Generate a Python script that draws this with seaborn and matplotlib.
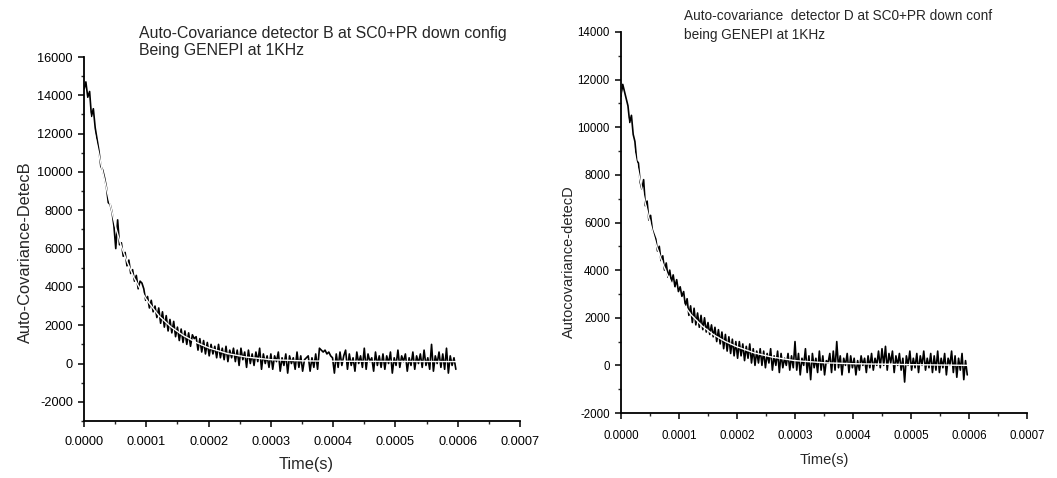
import numpy as np
import pandas as pd
import matplotlib
matplotlib.use("Agg")
import matplotlib.pyplot as plt
from matplotlib.ticker import MultipleLocator, FormatStrFormatter
import seaborn as sns

# ---------------- data ----------------
step_us = 3  # sample spacing in microseconds
time_b_us = list(range(0, 600, step_us))
covar_b = [
    14300, 14700, 13900, 14200, 12900, 13300, 12300, 11700, 11100, 10300,
    10100, 9700, 9200, 8400, 8300, 7900, 7200, 6000, 7500, 6200,
    6300, 5600, 5800, 5100, 5400, 4700, 4900, 4300, 4600, 3900,
    4300, 4200, 3900, 3300, 3500, 2900, 3300, 2700, 3000, 2400,
    2900, 2100, 2700, 1900, 2500, 1700, 2300, 1600, 2200, 1400,
    1900, 1200, 1800, 1100, 1700, 1000, 1600, 900, 1500, 1300,
    1400, 700, 1300, 600, 1200, 500, 1100, 400, 1000, 500,
    900, 300, 1000, 300, 800, 200, 900, 100, 700, 300,
    800, 100, 700, -100, 800, 200, 600, -200, 700, 0,
    500, -100, 600, 100, 800, -300, 500, 0, 400, -200,
    500, -300, 400, 100, 600, -400, 300, -100, 500, -500,
    400, 0, 300, -300, 600, -200, 400, -400, 200, 300,
    400, -400, 300, -200, 500, -300, 800, 700, 600, 700,
    500, 600, 400, 300, -500, 500, -200, 600, -100, 400,
    700, -300, 500, -100, 300, -400, 600, 0, 400, -200,
    800, -300, 500, 100, 300, -400, 600, -100, 400, -200,
    500, -300, 400, 0, 600, -500, 300, -100, 700, -200,
    400, 100, 500, -400, 300, -100, 600, -300, 400, 0,
    500, -200, 700, -100, 300, -300, 1000, -400, 400, 0,
    600, -200, 500, -300, 800, -500, 400, -100, 300, -300,
]
fit_b_t_us = [0, 10, 20, 30, 40, 50, 60, 70, 80, 90, 100, 120, 140, 160, 180,
              200, 230, 260, 300, 350, 400, 500, 600]
fit_b = [14300, 12900, 11500, 10000, 8600, 7200, 6100, 5250, 4500, 3900, 3350,
         2500, 1900, 1450, 1100, 820, 520, 340, 200, 140, 120, 110, 100]

time_d_us = list(range(0, 600, step_us))
covar_d = [
    11300, 11800, 11500, 11200, 10900, 10200, 10500, 9700, 9400, 8600,
    8500, 7700, 7400, 7800, 6700, 6900, 6100, 6300, 5700, 5500,
    5300, 4800, 5000, 4400, 4600, 4000, 4300, 3700, 4000, 3500,
    3800, 3300, 3600, 3100, 3300, 2900, 3100, 2500, 2800, 2100,
    2500, 1800, 2400, 1700, 2200, 1600, 2100, 1500, 2000, 1400,
    1800, 1300, 1700, 1200, 1600, 1000, 1500, 900, 1400, 700,
    1300, 600, 1200, 500, 1100, 400, 1000, 300, 1000, 400,
    900, 200, 800, 300, 900, 100, 700, 0, 600, 100,
    700, 0, 600, -100, 500, 100, 700, -200, 400, 0,
    600, -300, 500, -100, 300, 0, 500, -200, 400, -100,
    1000, -200, 500, -400, 300, 0, 700, -300, 400, -600,
    500, -100, 300, -300, 600, -200, 400, -400, 200, 100,
    500, -300, 600, -200, 1000, -100, 400, -400, 300, 0,
    500, -300, 400, -100, 300, -400, 200, -200, 400, 0,
    300, -300, 400, -100, 500, -200, 300, 0, 600, -100,
    700, 0, 800, -200, 500, 100, 600, -300, 400, 0,
    500, -200, 300, -700, 400, 0, 600, -200, 300, -100,
    500, -300, 400, 0, 600, -200, 300, -100, 500, -300,
    400, -200, 600, -300, 300, -100, 500, -400, 300, 0,
    600, -300, 400, -500, 300, -200, 500, -600, 200, -400,
]
fit_d_t_us = [0, 10, 20, 30, 40, 50, 60, 70, 80, 90, 100, 120, 140, 160, 180,
              200, 230, 260, 300, 350, 400, 500, 600]
fit_d = [11600, 10500, 9300, 8100, 7000, 6000, 5100, 4400, 3800, 3300, 2850,
         2150, 1650, 1280, 1000, 780, 520, 350, 200, 110, 70, 30, 0]

title_b = "Auto-Covariance detector B at SC0+PR down config\nBeing GENEPI at 1KHz"
title_d = "Auto-covariance  detector D at SC0+PR down conf\nbeing GENEPI at 1KHz"
ylabel_b = "Auto-Covariance-DetecB"
ylabel_d = "Autocovariance-detecD"
xlabel = "Time(s)"

# ---------------- styling ----------------
sns.set_style("ticks")
plt.rcParams["font.family"] = ["Liberation Sans", "DejaVu Sans"]
fam = ["Liberation Sans"]

W, H = 1057, 478
fig = plt.figure(figsize=(W / 100, H / 100), dpi=100)

def px_axes(x0, x1, ytop, ybot):
    return fig.add_axes([x0 / W, 1 - ybot / H, (x1 - x0) / W, (ybot - ytop) / H])

ax1 = px_axes(84, 520, 57, 421)
ax2 = px_axes(621, 1027, 32, 413)

df_b = pd.DataFrame({"t": np.array(time_b_us) * 1e-6, "v": covar_b})
df_fb = pd.DataFrame({"t": np.array(fit_b_t_us) * 1e-6, "v": fit_b})
df_d = pd.DataFrame({"t": np.array(time_d_us) * 1e-6, "v": covar_d})
df_fd = pd.DataFrame({"t": np.array(fit_d_t_us) * 1e-6, "v": fit_d})

panel_cfg = [
    # ax, data, fit, ylim, ticklabel size, x pad, y pad
    (ax1, df_b, df_fb, (-3000, 16000), 9.2, 6.5, 3.5),
    (ax2, df_d, df_fd, (-2000, 14000), 8.3, 7.9, 3.5),
]
for ax, df, dff, ylim, tsize, xpad, ypad in panel_cfg:
    sns.lineplot(data=df, x="t", y="v", ax=ax, color="black", linewidth=1.2)
    sns.lineplot(data=dff, x="t", y="v", ax=ax, color="white", linewidth=1.0)
    ax.set_xlim(0, 0.0007)
    ax.set_ylim(*ylim)
    ax.xaxis.set_major_locator(MultipleLocator(0.0001))
    ax.xaxis.set_minor_locator(MultipleLocator(0.00005))
    ax.yaxis.set_major_locator(MultipleLocator(2000))
    ax.yaxis.set_minor_locator(MultipleLocator(1000))
    ax.xaxis.set_major_formatter(FormatStrFormatter("%.4f"))
    ax.yaxis.set_major_formatter(FormatStrFormatter("%d"))
    ax.tick_params(axis="both", which="major", direction="out", length=4.5, width=1.1,
                   colors="black", labelsize=tsize)
    ax.tick_params(axis="x", which="major", pad=xpad)
    ax.tick_params(axis="y", which="major", pad=ypad)
    ax.tick_params(axis="both", which="minor", direction="out", length=2.5, width=1.0)
    for s in ["top", "right"]:
        ax.spines[s].set_visible(False)
    for s in ["left", "bottom"]:
        ax.spines[s].set_linewidth(1.3)
        ax.spines[s].set_color("black")
    ax.set_xlabel("")
    ax.set_ylabel("")

ax1.set_yticks([-2000, 0, 2000, 4000, 6000, 8000, 10000, 12000, 14000, 16000])
ax1.set_ylim(-3000, 16000)

fig.text(139 / W, 1 - 26 / H, title_b, ha="left", va="top", fontsize=11.4,
         linespacing=1.2, family=fam)
fig.text(684 / W, 1 - 9 / H, title_d, ha="left", va="top", fontsize=9.8,
         linespacing=1.45, family=fam)
fig.text(25 / W, 1 - 252 / H, ylabel_b, rotation=90, ha="center", va="center",
         fontsize=11.8, family=fam)
fig.text(569 / W, 1 - 262 / H, ylabel_d, rotation=90, ha="center", va="center",
         fontsize=10.5, family=fam)
fig.text(306 / W, 1 - 465 / H, xlabel, ha="center", va="center", fontsize=11.8,
         family=fam)
fig.text(824 / W, 1 - 460 / H, xlabel, ha="center", va="center", fontsize=10.5,
         family=fam)

fig.savefig("out.png", dpi=100, facecolor="white")
